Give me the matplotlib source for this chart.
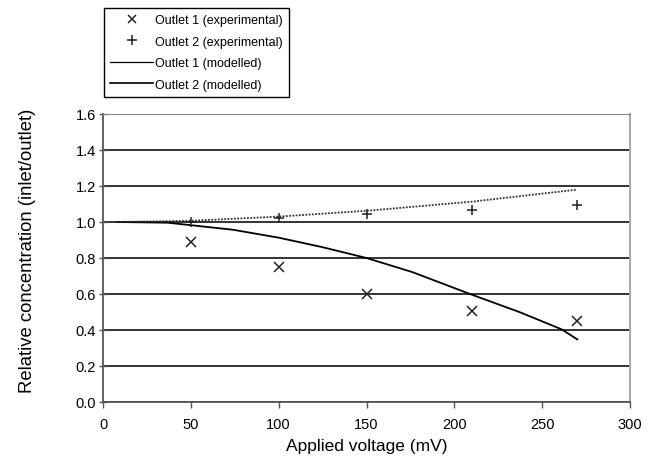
import matplotlib
matplotlib.use("Agg")
import matplotlib.pyplot as plt
from matplotlib.lines import Line2D

plt.rcParams['font.family'] = ['Liberation Sans', 'DejaVu Sans']

# experimental points
voltage_exp = [50, 100, 150, 210, 270]
outlet1_exp = [0.89, 0.75, 0.60, 0.505, 0.452]
outlet2_exp = [1.00, 1.025, 1.044, 1.067, 1.095]

# modelled curves
voltage_mod1 = [8, 37, 74, 100, 125, 150, 176, 210, 237, 261, 270]
outlet1_mod = [1.0, 0.996, 0.957, 0.913, 0.86, 0.80, 0.722, 0.596, 0.50, 0.404, 0.348]
voltage_mod2 = [8, 51, 100, 151, 210, 270]
outlet2_mod = [1.0, 1.007, 1.03, 1.063, 1.113, 1.18]

fig = plt.figure(figsize=(6.55, 4.6), dpi=100)
ax = fig.add_axes([103/655, 57/460, 527/655, 288/460])

ax.plot(voltage_mod1, outlet1_mod, color='black', lw=1.3)
ax.plot(voltage_mod2, outlet2_mod, color='#333333', lw=1.3, linestyle=(0, (1, 0.8)))
ax.plot(voltage_exp, outlet1_exp, 'x', color='#222222', ms=6.5, mew=1.1)
ax.plot(voltage_exp, outlet2_exp, '+', color='#222222', ms=7.5, mew=1.1)

ax.set_xlim(0, 300)
ax.set_ylim(0, 1.6)
ax.set_xticks(range(0, 301, 50))
ax.set_yticks([i * 0.2 for i in range(9)])
ax.set_yticklabels(['%.1f' % (i * 0.2) for i in range(9)])
ax.grid(axis='y', color='#111111', lw=1.2)
ax.set_axisbelow(True)
ax.tick_params(axis='both', labelsize=10.5, color='#555555', length=4, width=1)
ax.tick_params(axis='x', pad=7)
ax.tick_params(axis='y', direction='inout', length=6, pad=2)
for side in ['left', 'bottom']:
    ax.spines[side].set_color('#555555')
    ax.spines[side].set_linewidth(1.3)
ax.spines['right'].set_color('#aaaaaa')
ax.spines['right'].set_linewidth(1.5)
ax.spines['top'].set_color('#888888')

ax.set_xlabel('Applied voltage (mV)', fontsize=12.5, labelpad=5)
ax.set_ylabel('Relative concentration (inlet/outlet)', fontsize=13.3)
ax.yaxis.set_label_coords(-0.128, 0.53)

handles = [
    Line2D([], [], marker='x', ls='none', color='#222222', ms=6, mew=1.1),
    Line2D([], [], marker='+', ls='none', color='#222222', ms=7, mew=1.1),
    Line2D([], [], color='black', lw=0.9),
    Line2D([], [], color='black', lw=1.2),
]
labels = ['Outlet 1 (experimental)', 'Outlet 2 (experimental)',
          'Outlet 1 (modelled)', 'Outlet 2 (modelled)']
leg = fig.legend(handles, labels, loc='upper left', bbox_to_anchor=(104/655, 1 - 9/460),
                 borderaxespad=0, fancybox=False, edgecolor='black', fontsize=9,
                 handlelength=3.4, handletextpad=0.2, labelspacing=0.76,
                 borderpad=0.5, framealpha=1)
leg.get_frame().set_linewidth(1.0)

fig.savefig('out.png', dpi=100)
